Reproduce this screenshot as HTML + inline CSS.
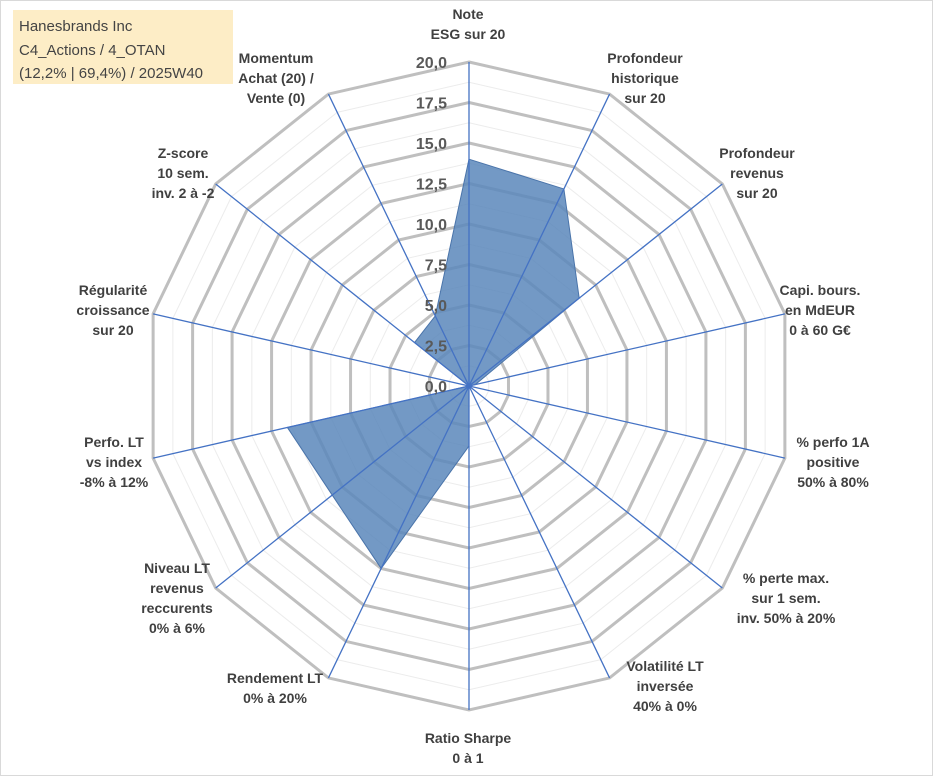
<!DOCTYPE html>
<html><head><meta charset="utf-8"><style>
body{margin:0;background:#fff}
svg{display:block;font-family:"Liberation Sans",sans-serif}
</style></head><body>
<svg width="933" height="776">
<rect x="0.5" y="0.5" width="932" height="775" fill="#fff" stroke="#d9d9d9"/>
<g id="grid"></g><g id="poly"></g><g id="axes"></g><g id="labels"></g>
<rect x="13" y="10" width="220" height="74" fill="#fdedc6"/>
<text x="19" y="31" font-size="15" fill="#444">Hanesbrands Inc</text>
<text x="19" y="55" font-size="15" fill="#444">C4_Actions / 4_OTAN</text>
<text x="19" y="78" font-size="15" fill="#444">(12,2% | 69,4%) / 2025W40</text>
</svg>
<script>
const categories=[["Note","ESG sur 20"],["Profondeur","historique","sur 20"],["Profondeur","revenus","sur 20"],["Capi. bours.","en MdEUR","0 à 60 G€"],["% perfo 1A","positive","50% à 80%"],["% perte max.","sur 1 sem.","inv. 50% à 20%"],["Volatilité LT","inversée","40% à 0%"],["Ratio Sharpe","0 à 1"],["Rendement LT","0% à 20%"],["Niveau LT","revenus","reccurents","0% à 6%"],["Perfo. LT","vs index","-8% à 12%"],["Régularité","croissance","sur 20"],["Z-score","10 sem.","inv. 2 à -2"],["Momentum","Achat (20) /","Vente (0)"]];
const values=[14,13.5,8.7,0.4,0,0,0,3.7,12.5,10.8,11.5,0,4.3,4.8];
const ticks=["0,0","2,5","5,0","7,5","10,0","12,5","15,0","17,5","20,0"];
const cx=469,cy=386,R=324,maxV=20,N=categories.length;
const labelCenters=[[468,24],[645,78],[757,173],[820,310],[833,462],[786,598],[665,686],[468,748],[275,688],[177,598],[114,462],[113,310],[183,173],[276,78]];
const NS="http://www.w3.org/2000/svg";
function mk(t,a,p){const e=document.createElementNS(NS,t);for(const k in a)e.setAttribute(k,a[k]);p.appendChild(e);return e;}
function pt(i,v){const a=i*2*Math.PI/N;const r=v/maxV*R;return [cx+r*Math.sin(a),cy-r*Math.cos(a)];}
const grid=document.getElementById('grid');
for(let k=1;k<=16;k++){const v=k*1.25;const ps=[];for(let i=0;i<N;i++)ps.push(pt(i,v).join(','));
const e=mk('polygon',{points:ps.join(' '),fill:'none',stroke:k%2?'#ececec':'#bfbfbf','stroke-width':k%2?1:3},grid);

}
const poly=document.getElementById('poly');
const pp=values.map((v,i)=>pt(i,v).join(',')).join(' ');
const pe=mk('polygon',{points:pp,fill:'#5a87bb','fill-opacity':0.85,stroke:'#4a74aa','stroke-width':1},poly);


const axes=document.getElementById('axes');
for(let i=0;i<N;i++){const p=pt(i,maxV);const l=mk('line',{x1:cx,y1:cy,x2:p[0],y2:p[1],stroke:'#4472c4','stroke-width':1.3},axes);

}
const lab=document.getElementById('labels');
ticks.forEach((t,k)=>{const y=cy-k*2.5/maxV*R;const e=mk('text',{x:cx-22,y:y+6,'text-anchor':'end','font-size':16,'font-weight':'bold',fill:'#595959'},lab);e.textContent=t;

});
categories.forEach((c,i)=>{const x=labelCenters[i][0],y=labelCenters[i][1];
const lh=20,h=c.length*lh;const g=mk('text',{'text-anchor':'middle','font-size':14,'font-weight':'bold',fill:'#404040'},lab);


c.forEach((line,j)=>{const t=mk('tspan',{x:x,y:y-h/2+lh*j+15},g);t.textContent=line;});});
</script>
</body></html>
